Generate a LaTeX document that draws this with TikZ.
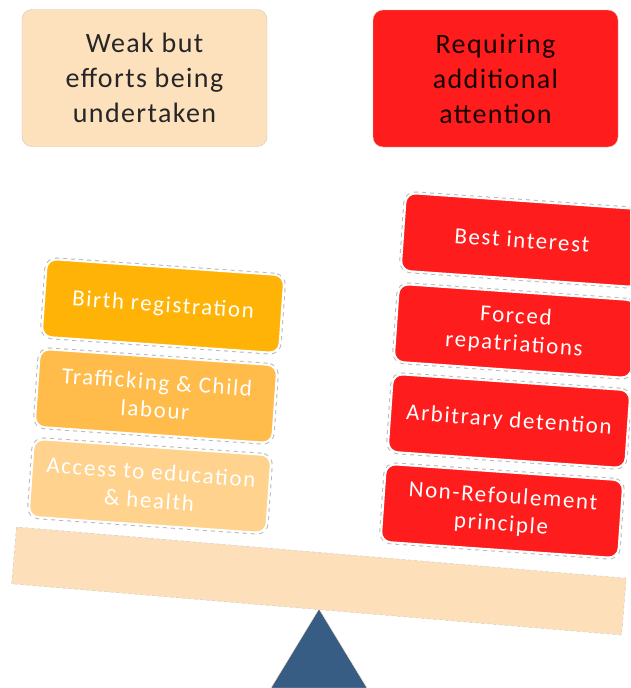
\documentclass[tikz,border=0pt]{standalone}
\usepackage{fontspec}
\setmainfont{Carlito}
\newfontfamily\headfont[LetterSpace=5]{Carlito}
\newfontfamily\boxfont[LetterSpace=7]{Carlito}
\definecolor{peach}{HTML}{FDE1BD}
\definecolor{alarm}{HTML}{FF1C1C}
\definecolor{amberA}{HTML}{FFB306}
\definecolor{amberB}{HTML}{FFBC4A}
\definecolor{amberC}{HTML}{FFD28E}
\definecolor{plank}{HTML}{FDE0BA}
\definecolor{slate}{HTML}{375D84}
\begin{document}
\begin{tikzpicture}[x=1pt, y=-1pt,
	head/.style={rounded corners=10pt, minimum width=245pt, minimum height=137pt, inner sep=0pt, align=center, font=\headfont\fontsize{28}{35}\selectfont, draw=peach!70!gray, thin},
	item/.style={rounded corners=10pt, minimum width=238pt, minimum height=78pt, inner sep=0pt, align=center, rotate=-4, text=white, font=\boxfont\fontsize{23}{28}\selectfont, draw=white, line width=2pt, preaction={draw=gray!55, dash pattern=on 4pt off 4pt, line width=4pt}}]
	% frame
	\clip (0,0) rectangle (630,688);
	\fill[white] (0,0) rectangle (630,688);

	% fulcrum and plank
	\filldraw[fill=slate, draw=peach] (319,609) -- (367,688) -- (271,688) -- cycle;
	\filldraw[fill=plank, draw=gray!45, dashed, thin, rotate around={-4.8:(319,581)}] (13,552.5) rectangle (625,609.5);

	% headings
	\node[head, fill=peach, text=black!85] (weak) at (144.5,78) {Weak but\\efforts being\\undertaken};
	\node[head, fill=alarm, text=black!90!red] (attn) at (495.5,78.5) {Requiring\\additional\\attention};

	% left pile
	\node[item, fill=amberA] (birth) at (163,306) {Birth registration};
	\node[item, fill=amberB] (traffick) at (156,396) {Trafficking \& Child\\labour};
	\node[item, fill=amberC] (educ) at (150,486) {Access to education\\\& health};

	% right pile
	\node[item, fill=alarm] (best) at (522,240) {Best interest};
	\node[item, fill=alarm] (forced) at (515,331) {Forced\\repatriations};
	\node[item, fill=alarm] (detention) at (509,421) {Arbitrary detention};
	\node[item, fill=alarm] (refoul) at (502,511) {Non-Refoulement\\principle};
\end{tikzpicture}
\end{document}
